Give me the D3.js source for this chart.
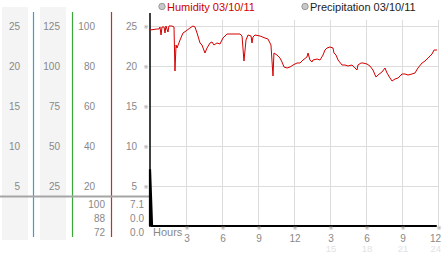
<!DOCTYPE html>
<html>
<head>
<meta charset="utf-8">
<script src="https://cdn.jsdelivr.net/npm/d3@7"></script>
<style>
  body { margin: 0; background: #fff; }
  svg { display: block; }
</style>
</head>
<body>
<div id="chart"></div>
<script>
// tick labels of the four scales on the left
var scaleA = [5, 10, 15, 20, 25];
var scaleB = [25, 50, 75, 100, 125];
var scaleC = [20, 40, 60, 80, 100];
var scaleD = [5, 10, 15, 20, 25];

// max / avg / min under the scales
var humidityStats = ["100", "88", "72"];
var precipStats = ["7.1", "0.0", "0.0"];

// hour axis
var hourTicks = [3, 6, 9, 12, 15, 18, 21, 24];
var hourLabels = ["3", "6", "9", "12", "3", "6", "9", "12"];
var hourLabels24 = ["", "", "", "", "15", "18", "21", "24"];

// humidity (%)
var humidityHours = [0, 0.58, 0.75, 0.83, 0.92, 1.0, 1.17, 1.25, 1.33, 1.5, 1.58, 1.83, 2.0, 2.08, 2.17, 2.25, 2.5, 2.75,
  3.0, 3.33, 3.58, 3.75, 3.92, 4.17, 4.33, 4.58, 4.75, 5.0, 5.17, 5.33, 5.58, 5.83, 6.08, 6.42, 6.83, 7.5, 7.67, 7.83,
  8.0, 8.17, 8.42, 8.5, 8.58, 8.75, 9.17, 9.58, 9.83, 10.08, 10.25, 10.33, 10.58, 10.83, 11.0, 11.17, 11.42, 11.67,
  11.92, 12.25, 12.5, 12.75, 13.08, 13.17, 13.33, 13.5, 13.58, 13.92, 14.17, 14.42, 14.58, 14.75, 15.0, 15.25, 15.33,
  15.5, 15.67, 16.0, 16.25, 16.5, 16.83, 17.08, 17.25, 17.33, 17.58, 17.75, 18.08, 18.33, 18.58, 18.83, 19.0, 19.33,
  19.58, 19.75, 20.0, 20.17, 20.42, 20.67, 21.0, 21.25, 21.5, 21.83, 22.08, 22.33, 22.67, 22.92, 23.17, 23.5, 23.67, 23.92];
var humidityValues = [98, 98.5, 98.5, 99.5, 95.5, 99.5, 99.5, 96.5, 100, 97, 100, 100, 99.5, 77.5, 90.5, 89, 93, 96.5,
  97.5, 99, 100, 99.5, 96.5, 91.5, 90.5, 86.5, 89, 91.5, 92, 90.5, 91.5, 91, 94, 96, 96, 96, 95, 82.5,
  93, 95.5, 95, 91.5, 94.5, 95.5, 95, 94, 93.5, 90.5, 75, 86.5, 85.5, 84, 82, 79.5, 79, 79.5,
  80.5, 81.5, 81.5, 83, 84.5, 86.5, 83, 82, 83, 83.5, 83, 85.5, 88, 89, 89.5, 89, 86.5,
  85.5, 83, 80.5, 80.5, 80, 80.5, 79, 78, 80.5, 81.5, 81.5, 81, 80, 78, 74.5, 75.5, 77,
  79, 76.5, 74, 72.5, 73.5, 74, 76, 76, 75.5, 76, 76.5, 79, 81.5, 82.5, 84, 86, 88, 88];

// precipitation (mm)
var precipHours = [0, 0, 0.17, 23.9];
var precipValues = [0, 7.1, 0, 0];

var drawChart = function() {

    var width = 442, height = 253;
    var fontFamily = "'Liberation Sans', Arial, sans-serif";
    var labelColor = "#888";
    var gridColor = "#dcdcdc";

    var top = 26, bottom = 226;   // pixel rows of the top and zero value
    var plotLeft = 150, plotRight = 438;

    var svg = d3.select("#chart").append("svg")
        .attr("width", width)
        .attr("height", height);

    // scales
    var x = d3.scaleLinear().domain([0, 24]).range([plotLeft, plotRight]);
    var yA = d3.scaleLinear().domain([0, 25]).range([bottom, top]);
    var yB = d3.scaleLinear().domain([0, 125]).range([bottom, top]);
    var yC = d3.scaleLinear().domain([0, 100]).range([bottom, top]);
    var yD = d3.scaleLinear().domain([0, 25]).range([bottom, top]);

    // shaded panels behind the first two scales
    svg.append("rect").attr("x", 2).attr("y", 7).attr("width", 26).attr("height", 233).attr("fill", "#f4f4f4");
    svg.append("rect").attr("x", 40).attr("y", 7).attr("width", 26).attr("height", 233).attr("fill", "#f4f4f4");

    // coloured scale lines
    var scaleLines = [{x: 33.5, c: "#3a9fd0"}, {x: 72.5, c: "#3aa83a"}, {x: 111.5, c: "#c03030"}];
    svg.selectAll(".scale-line")
        .data(scaleLines)
        .join("line")
        .attr("x1", d => d.x).attr("x2", d => d.x)
        .attr("y1", 12).attr("y2", 237)
        .attr("stroke", d => d.c)
        .attr("stroke-width", 1.2);

    // scale labels
    var columns = [
        {vals: scaleA, y: yA, right: 20},
        {vals: scaleB, y: yB, right: 60},
        {vals: scaleC, y: yC, right: 95},
        {vals: scaleD, y: yD, right: 137}
    ];
    columns.forEach(function(col) {
        svg.append("g").selectAll("text")
            .data(col.vals)
            .join("text")
            .attr("x", col.right)
            .attr("y", d => col.y(d) + 4)
            .attr("text-anchor", "end")
            .attr("font-family", fontFamily)
            .attr("font-size", 10)
            .attr("fill", labelColor)
            .text(d => d);
    });

    // little marks beside the right-hand scale
    svg.append("g").selectAll("text")
        .data(scaleD)
        .join("text")
        .attr("x", 146)
        .attr("y", d => yD(d) + 2.5)
        .attr("text-anchor", "middle")
        .attr("font-family", "DejaVu Sans, sans-serif")
        .attr("font-size", 6)
        .attr("fill", "#999")
        .text("\u203B");

    // gray divider across the scales
    svg.append("line")
        .attr("x1", 0).attr("x2", plotLeft)
        .attr("y1", 196.5).attr("y2", 196.5)
        .attr("stroke", "#a5a5a5")
        .attr("stroke-width", 2);

    // stats under the scales
    var statRows = [208, 222, 236];
    svg.append("g").selectAll("text")
        .data(humidityStats)
        .join("text")
        .attr("x", 105).attr("y", (d, i) => statRows[i])
        .attr("text-anchor", "end")
        .attr("font-family", fontFamily).attr("font-size", 10)
        .attr("fill", labelColor)
        .text(d => d);
    svg.append("g").selectAll("text")
        .data(precipStats)
        .join("text")
        .attr("x", 144).attr("y", (d, i) => statRows[i])
        .attr("text-anchor", "end")
        .attr("font-family", fontFamily).attr("font-size", 10)
        .attr("fill", labelColor)
        .text(d => d);

    // grid
    svg.append("g").selectAll("line")
        .data(scaleD)
        .join("line")
        .attr("x1", plotLeft).attr("x2", plotRight + 1)
        .attr("y1", d => Math.round(yD(d)) + 0.5).attr("y2", d => Math.round(yD(d)) + 0.5)
        .attr("stroke", gridColor);
    svg.append("g").selectAll("line")
        .data(hourTicks)
        .join("line")
        .attr("x1", d => Math.round(x(d)) + 0.5).attr("x2", d => Math.round(x(d)) + 0.5)
        .attr("y1", 20).attr("y2", bottom)
        .attr("stroke", gridColor);

    // y axis
    svg.append("line")
        .attr("x1", plotLeft).attr("x2", plotLeft)
        .attr("y1", 13).attr("y2", bottom + 1)
        .attr("stroke", "#000")
        .attr("stroke-width", 1.5);

    // humidity line
    var humidity = humidityHours.map((h, i) => ({h: h, v: humidityValues[i]}));
    svg.append("path")
        .datum(humidity)
        .attr("d", d3.line().x(d => x(d.h)).y(d => yC(d.v)))
        .attr("fill", "none")
        .attr("stroke", "#d40000")
        .attr("stroke-width", 1);

    // precipitation line
    var precip = precipHours.map((h, i) => ({h: h, v: precipValues[i]}));
    svg.append("path")
        .datum(precip)
        .attr("d", d3.line().x(d => x(d.h)).y(d => yD(d.v)))
        .attr("fill", "none")
        .attr("stroke", "#000")
        .attr("stroke-width", 2.2);

    // hour axis labels
    svg.append("text")
        .attr("x", 153).attr("y", 236)
        .attr("font-family", fontFamily).attr("font-size", 11)
        .attr("fill", labelColor)
        .text("Hours");

    // keep the last label inside the picture
    var labelX = function(d) { return d === 24 ? width - 1 : x(d) + 1; };
    var labelAnchor = function(d) { return d === 24 ? "end" : "middle"; };

    var hourG = svg.append("g");
    hourG.selectAll(".mark")
        .data(hourTicks)
        .join("text")
        .attr("x", d => x(d) + 1)
        .attr("y", 230)
        .attr("text-anchor", "middle")
        .attr("font-family", "DejaVu Sans, sans-serif")
        .attr("font-size", 6)
        .attr("fill", "#999")
        .text("\u203B");
    hourG.selectAll(".lab")
        .data(hourTicks)
        .join("text")
        .attr("x", labelX)
        .attr("y", 242)
        .attr("text-anchor", labelAnchor)
        .attr("font-family", fontFamily).attr("font-size", 10)
        .attr("fill", labelColor)
        .text((d, i) => hourLabels[i]);
    hourG.selectAll(".lab24")
        .data(hourTicks)
        .join("text")
        .attr("x", labelX)
        .attr("y", 252)
        .attr("text-anchor", labelAnchor)
        .attr("font-family", fontFamily).attr("font-size", 9.5)
        .attr("fill", "#e2e2e2")
        .text((d, i) => hourLabels24[i]);

    // legend
    var legend = [
        {label: "Humidity 03/10/11", x: 162, color: "#cc0000"},
        {label: "Precipitation 03/10/11", x: 305, color: "#222"}
    ];
    var lg = svg.append("g").selectAll("g")
        .data(legend)
        .join("g");
    lg.append("circle")
        .attr("cx", d => d.x).attr("cy", 6.5).attr("r", 3.2)
        .attr("fill", "#c8c8c8").attr("stroke", "#999");
    lg.append("text")
        .attr("x", d => d.x + 5).attr("y", 10.5)
        .attr("font-family", fontFamily).attr("font-size", 11)
        .attr("fill", d => d.color)
        .text(d => d.label);
}

window.addEventListener("load", drawChart);
</script>
</body>
</html>
